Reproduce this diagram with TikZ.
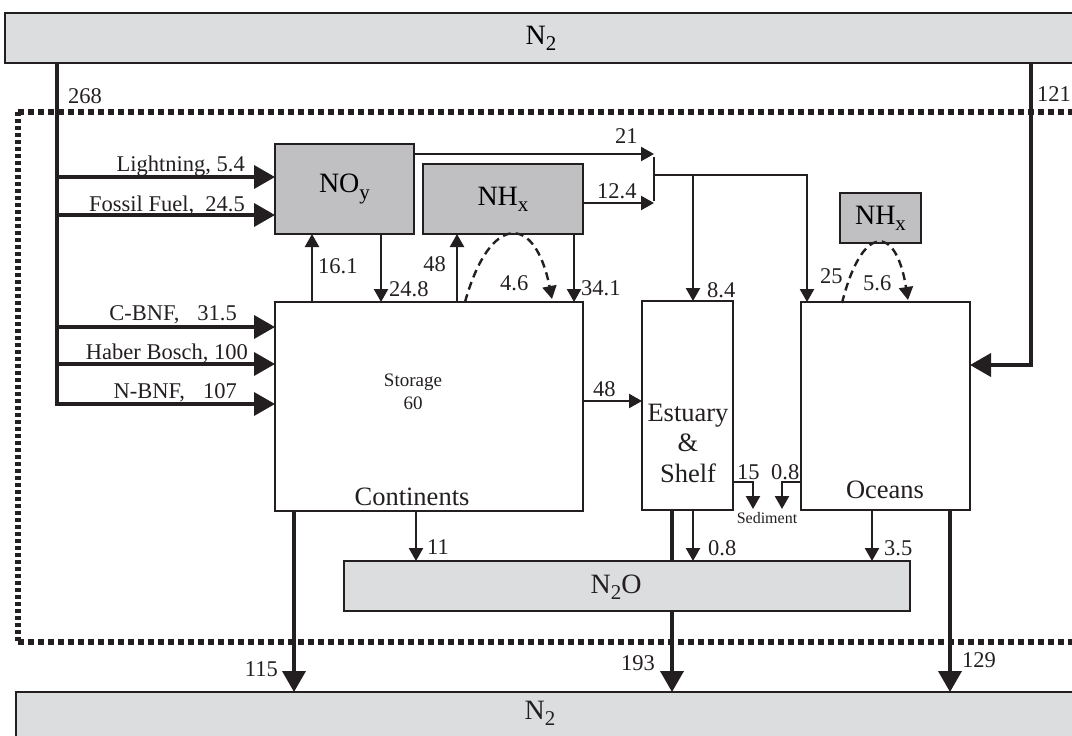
\documentclass[tikz,border=0pt]{standalone}
\usepackage{fontspec}
\setmainfont{Liberation Serif}
\usetikzlibrary{arrows.meta}
\definecolor{darkfill}{HTML}{C0C0C2}
\definecolor{lightfill}{HTML}{DCDDDF}
\definecolor{ink}{HTML}{231F20}
\newcommand\lowsub[1]{\raisebox{-0.22em}{\fontsize{21}{21}\selectfont #1}}
\tikzset{
  box/.style={draw=ink, line width=2.6pt, fill=white, inner sep=0pt, outer sep=0pt},
  darkbox/.style={box, fill=darkfill, font=\fontsize{28}{32}\selectfont},
  lightbox/.style={box, fill=lightfill, font=\fontsize{28}{32}\selectfont},
  flow/.style={draw=ink, line width=2.4pt, -{Triangle[length=13pt,width=14pt]}},
  bigflow/.style={draw=ink, line width=3.8pt, -{Triangle[length=21pt,width=23pt]}},
  plainline/.style={draw=ink, line width=2.4pt},
  thickline/.style={draw=ink, line width=3.8pt},
  dflow/.style={flow, dash pattern=on 8pt off 5pt},
  lbl/.style={font=\fontsize{22.5}{27}\selectfont, inner sep=0pt, text=ink},
  bigtxt/.style={font=\fontsize{28}{32}\selectfont, inner sep=0pt, text=ink},
  midtxt/.style={font=\fontsize{26.5}{30.5}\selectfont, inner sep=0pt, text=ink},
  frameline/.style={draw=ink, line width=6pt}
}
\begin{document}
\begin{tikzpicture}[x=1pt,y=-1pt]
\useasboundingbox (0,0) rectangle (1072,736);
\clip (0,0) rectangle (1072,736);
% dotted frame
\draw[frameline, dash pattern=on 6pt off 4pt] (18,112) -- (1080,112);
\draw[frameline, dash pattern=on 4pt off 3pt] (18,112) -- (18,642);
\draw[frameline, dash pattern=on 6pt off 4pt] (18,642) -- (1080,642);

% boxes
\node[lightbox, minimum width=1072pt, minimum height=50pt] (n2t) at (541,38) {N\lowsub{2}};
\node[lightbox, minimum width=1070pt, minimum height=60pt] (n2b) at (551,722) {};
\node[bigtxt] (n2btxt) at (540,713) {N\lowsub{2}};
\node[darkbox, minimum width=139pt, minimum height=90pt] (noy) at (344.5,189) {NO\lowsub{y}};
\node[darkbox, minimum width=160pt, minimum height=70pt] (nhx) at (503,199) {NH\lowsub{x}};
\node[darkbox, minimum width=81pt, minimum height=50pt] (nhx2) at (880.5,218) {NH\lowsub{x}};
\node[box, minimum width=308pt, minimum height=209pt] (cont) at (429,406.5) {};
\node[box, minimum width=91pt, minimum height=209pt] (est) at (687.5,405.5) {};
\node[box, minimum width=169pt, minimum height=208pt] (oce) at (885.5,406) {};
\node[lightbox, minimum width=566pt, minimum height=50pt] (n2o) at (627,586) {};
\node[bigtxt] (n2otxt) at (616,587) {N\lowsub{2}O};

% texts in boxes
\node[inner sep=0pt, text=ink, align=center, font=\fontsize{19}{23}\selectfont] (stor) at (413,391.5) {Storage\\60};
\node[midtxt] (conttxt) at (412,497) {Continents};
\node[midtxt, align=center] (esttxt) at (688,443) {Estuary\\\&\\Shelf};
\node[midtxt] (ocetxt) at (885,490) {Oceans};
\node[inner sep=0pt, text=ink, font=\fontsize{16}{19}\selectfont] (sedtxt) at (767,518) {Sediment};

% inputs from N2 (268)
\coordinate (inL) at (57,177);
\coordinate (inF) at (57,215);
\coordinate (inC) at (57,327);
\coordinate (inH) at (57,364);
\coordinate (inN) at (57,404);
\draw[bigflow, line width=3.5pt] (inN |- n2t.south) -- (inN) -- (inN -| cont.west);
\draw[bigflow] (inL) -- (inL -| noy.west);
\draw[bigflow] (inF) -- (inF -| noy.west);
\draw[bigflow] (inC) -- (inC -| cont.west);
\draw[bigflow] (inH) -- (inH -| cont.west);
\node[lbl, anchor=west] (l268) at (68,96) {268};
\node[lbl, anchor=base east] (lLi) at (245,171.5) {Lightning, 5.4};
\node[lbl, anchor=base east] (lFo) at (245,211.5) {Fossil Fuel,\hspace{0.5em}24.5};
\node[lbl, anchor=base east] (lCB) at (237,320.5) {C-BNF,\hspace{0.8em}31.5};
\node[lbl, anchor=base east] (lHB) at (248,359) {Haber Bosch, 100};
\node[lbl, anchor=base east] (lNB) at (237,398) {N-BNF,\hspace{0.8em}107};

% 121 into oceans
\coordinate (c121) at (1031,365);
\draw[bigflow] (c121 |- n2t.south) -- (c121) -- (c121 -| oce.east);
\node[lbl, anchor=west] (l121) at (1037,94) {121};

% NOy / NHx exchanges
\coordinate (x161) at (312,0);
\coordinate (x248) at (381,0);
\coordinate (x48) at (457,0);
\coordinate (x341) at (574,0);
\draw[flow] (x161 |- cont.north) -- (x161 |- noy.south);
\draw[flow] (x248 |- noy.south) -- (x248 |- cont.north);
\draw[flow] (x48 |- cont.north) -- (x48 |- nhx.south);
\draw[flow] (x341 |- nhx.south) -- (x341 |- cont.north);
\coordinate (d1s) at (465,302);
\coordinate (d1e) at (552,299);
\draw[dflow] (d1s) .. controls (490,213) and (535,213) .. (d1e);
\node[lbl, anchor=west] (l161) at (318,266) {16.1};
\node[lbl, anchor=west] (l248) at (389,289) {24.8};
\node[lbl, anchor=east] (l48a) at (446,264) {48};
\node[lbl, anchor=west] (l46) at (500,283) {4.6};
\node[lbl, anchor=west] (l341) at (581,288) {34.1};

% deposition to estuary and ocean
\coordinate (j21) at (654,154);
\coordinate (j124) at (654,203);
\coordinate (bart) at (654,157);
\coordinate (barb) at (654,201);
\coordinate (jn) at (654,175);
\coordinate (je) at (693,175);
\coordinate (jo) at (807,175);
\draw[flow] (j21 -| noy.east) -- (j21);
\draw[flow] (j124 -| nhx.east) -- (j124);
\draw[plainline] (bart) -- (barb);
\draw[flow] (jn) -- (jo) -- (jo |- oce.north);
\draw[flow] (je) -- (je |- est.north);
\node[lbl, anchor=west] (l21) at (615,136) {21};
\node[lbl, anchor=west] (l124) at (597,191) {12.4};
\node[lbl, anchor=west] (l84) at (707,290) {8.4};

% ocean NHx exchange
\coordinate (d2s) at (842,303);
\coordinate (d2e) at (908,300);
\draw[dflow] (d2s) .. controls (862,223.5) and (896,223.5) .. (d2e);
\node[lbl, anchor=west] (l25) at (820,276) {25};
\node[lbl, anchor=west] (l56) at (863,283) {5.6};

% continents to estuary
\coordinate (c48) at (0,401);
\draw[flow] (c48 -| cont.east) -- (c48 -| est.west);
\node[lbl, anchor=west] (l48b) at (593,389) {48};

% sediment
\coordinate (s1) at (753,482);
\coordinate (s1e) at (753,509);
\coordinate (s2) at (782,482);
\coordinate (s2e) at (782,509);
\draw[flow] (s1 -| est.east) -- (s1) -- (s1e);
\draw[flow] (s2 -| oce.west) -- (s2) -- (s2e);
\node[lbl, anchor=west] (l15) at (737,472) {15};
\node[lbl, anchor=west] (l08a) at (771,472) {0.8};

% to N2O and N2
\coordinate (c11) at (416,0);
\coordinate (c115) at (294,0);
\coordinate (c193) at (672,0);
\coordinate (c08) at (693,0);
\coordinate (c35) at (872,0);
\coordinate (c129) at (950,0);
\draw[flow] (c11 |- cont.south) -- (c11 |- n2o.north);
\draw[bigflow] (c115 |- cont.south) -- (c115 |- n2b.north);
\draw[thickline] (c193 |- est.south) -- (c193 |- n2o.north);
\draw[bigflow] (c193 |- n2o.south) -- (c193 |- n2b.north);
\draw[flow] (c08 |- est.south) -- (c08 |- n2o.north);
\draw[flow] (c35 |- oce.south) -- (c35 |- n2o.north);
\draw[bigflow] (c129 |- oce.south) -- (c129 |- n2b.north);
\node[lbl, anchor=west] (l11) at (427,547) {11};
\node[lbl, anchor=west] (l08b) at (708,548) {0.8};
\node[lbl, anchor=west] (l35) at (884,548) {3.5};
\node[lbl, anchor=east] (l115) at (278,669) {115};
\node[lbl, anchor=east] (l193) at (655,663) {193};
\node[lbl, anchor=west] (l129) at (962,660) {129};
\end{tikzpicture}
\end{document}
